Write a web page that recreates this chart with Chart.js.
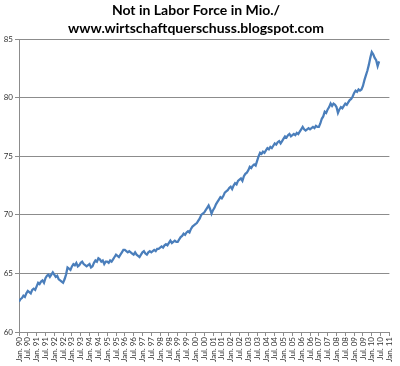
<!DOCTYPE html>
<html>
<head>
<meta charset="utf-8">
<script src="https://cdn.jsdelivr.net/npm/chart.js@4.4.0/dist/chart.umd.min.js"></script>
<style>
  html, body { margin: 0; padding: 0; background: #fff; }
  #wrap { width: 400px; height: 366px; }
</style>
</head>
<body>
<div id="wrap"><canvas id="chart" width="400" height="366"></canvas></div>
<script>
// Not in labor force, million, monthly from Jan 1990
const y1990 = [62.6, 62.8, 62.9, 63.1, 63.0, 63.3, 63.5, 63.4, 63.3, 63.6, 63.7, 63.6];
const y1991 = [63.9, 64.2, 64.1, 64.3, 64.4, 64.2, 64.6, 64.8, 64.9, 64.7, 64.9, 65.1];
const y1992 = [64.9, 64.7, 64.8, 64.5, 64.4, 64.3, 64.2, 64.5, 64.9, 65.5, 65.4, 65.3];
const y1993 = [65.6, 65.8, 65.7, 65.9, 65.6, 65.7, 65.9, 66.0, 65.8, 65.7, 65.6, 65.7];
const y1994 = [65.8, 65.5, 65.6, 65.9, 66.1, 66.0, 66.3, 66.2, 66.0, 66.1, 65.8, 66.0];
const y1995 = [66.0, 65.9, 66.1, 66.0, 66.2, 66.4, 66.6, 66.5, 66.4, 66.6, 66.8, 67.0];
const y1996 = [67.0, 66.9, 66.8, 66.9, 66.8, 66.7, 66.6, 66.8, 66.6, 66.5, 66.4, 66.6];
const y1997 = [66.8, 66.9, 66.7, 66.6, 66.8, 66.9, 66.8, 66.9, 67.0, 66.9, 67.1, 67.1];
const y1998 = [67.2, 67.3, 67.2, 67.4, 67.5, 67.4, 67.6, 67.8, 67.6, 67.7, 67.8, 67.7];
const y1999 = [67.7, 67.9, 68.1, 68.2, 68.4, 68.3, 68.5, 68.6, 68.5, 68.8, 69.0, 69.1];
const y2000 = [69.2, 69.3, 69.5, 69.7, 70.0, 70.1, 70.2, 70.4, 70.6, 70.8, 70.5, 70.1];
const y2001 = [70.4, 70.6, 70.9, 71.1, 71.3, 71.5, 71.4, 71.6, 71.9, 72.0, 72.1, 72.3];
const y2002 = [72.4, 72.2, 72.5, 72.7, 72.6, 72.9, 73.0, 73.1, 72.9, 73.3, 73.5, 73.6];
const y2003 = [73.8, 74.1, 74.0, 74.2, 74.3, 74.2, 74.6, 75.0, 75.3, 75.2, 75.4, 75.3];
const y2004 = [75.5, 75.7, 75.6, 75.8, 75.7, 75.9, 76.1, 76.0, 76.2, 76.3, 76.1, 76.3];
const y2005 = [76.5, 76.7, 76.6, 76.8, 76.9, 76.7, 76.8, 76.9, 76.8, 77.0, 76.9, 77.1];
const y2006 = [77.3, 77.5, 77.3, 77.2, 77.3, 77.4, 77.3, 77.4, 77.5, 77.4, 77.6, 77.5];
const y2007 = [77.5, 77.8, 78.2, 78.4, 78.8, 78.7, 79.0, 79.2, 79.5, 79.3, 79.5, 79.4];
const y2008 = [79.2, 78.7, 79.0, 79.2, 79.1, 79.3, 79.5, 79.4, 79.6, 79.8, 79.9, 80.1];
const y2009 = [80.4, 80.6, 80.5, 80.7, 80.6, 80.7, 81.0, 81.5, 81.9, 82.3, 82.8, 83.4];
const y2010 = [83.9, 83.7, 83.4, 83.2, 82.7, 83.1];

const tickLabels = [
  'Jan. 90', 'Jul. 90', 'Jan. 91', 'Jul. 91', 'Jan. 92', 'Jul. 92', 'Jan. 93', 'Jul. 93',
  'Jan. 94', 'Jul. 94', 'Jan. 95', 'Jul. 95', 'Jan. 96', 'Jul. 96', 'Jan. 97', 'Jul. 97',
  'Jan. 98', 'Jul. 98', 'Jan. 99', 'Jul. 99', 'Jan. 00', 'Jul. 00', 'Jan. 01', 'Jul. 01',
  'Jan. 02', 'Jul. 02', 'Jan. 03', 'Jul. 03', 'Jan. 04', 'Jul. 04', 'Jan. 05', 'Jul. 05',
  'Jan. 06', 'Jul. 06', 'Jan. 07', 'Jul. 07', 'Jan. 08', 'Jul. 08', 'Jan. 09', 'Jul. 09',
  'Jan. 10', 'Jul. 10', 'Jan. 11'
];

const titleLines = ['Not in Labor Force in Mio./', 'www.wirtschaftquerschuss.blogspot.com'];

const monthly = [].concat(y1990, y1991, y1992, y1993, y1994, y1995, y1996, y1997, y1998, y1999,
  y2000, y2001, y2002, y2003, y2004, y2005, y2006, y2007, y2008, y2009, y2010);

const axisGray = '#8c8c8c';

new Chart(document.getElementById('chart').getContext('2d'), {
  type: 'line',
  data: {
    datasets: [{
      data: monthly.map((v, i) => ({ x: i, y: v })),
      borderColor: '#4a7ebb',
      borderWidth: 2.25,
      pointRadius: 0,
      tension: 0,
      fill: false
    }]
  },
  options: {
    responsive: false,
    animation: false,
    layout: { padding: { left: 0, right: 8, top: 1, bottom: 0 } },
    plugins: {
      legend: { display: false },
      tooltip: { enabled: false },
      title: {
        display: true,
        text: titleLines,
        color: '#000',
        font: { family: 'Lato', size: 14, weight: 'bold', lineHeight: 1.29 },
        padding: { top: 0, bottom: 2 }
      }
    },
    scales: {
      x: {
        type: 'linear',
        min: 0,
        max: (tickLabels.length - 1) * 6,
        afterBuildTicks: (scale) => {
          scale.ticks = tickLabels.map((t, i) => ({ value: i * 6 }));
        },
        afterFit: (scale) => { scale.height = 34; },
        ticks: {
          autoSkip: false,
          minRotation: 90,
          maxRotation: 90,
          padding: 1,
          color: '#333',
          font: { family: 'Lato', size: 8 },
          callback: (v) => tickLabels[Math.round(v / 6)]
        },
        grid: { drawOnChartArea: false, color: axisGray, tickLength: 4 },
        border: { color: axisGray }
      },
      y: {
        min: 60,
        max: 85,
        afterFit: (scale) => { scale.width = 19; },
        ticks: {
          stepSize: 5,
          padding: 2,
          color: '#333',
          font: { family: 'Lato', size: 8 }
        },
        grid: { color: axisGray, tickLength: 4 },
        border: { color: axisGray }
      }
    }
  }
});
</script>
</body>
</html>
